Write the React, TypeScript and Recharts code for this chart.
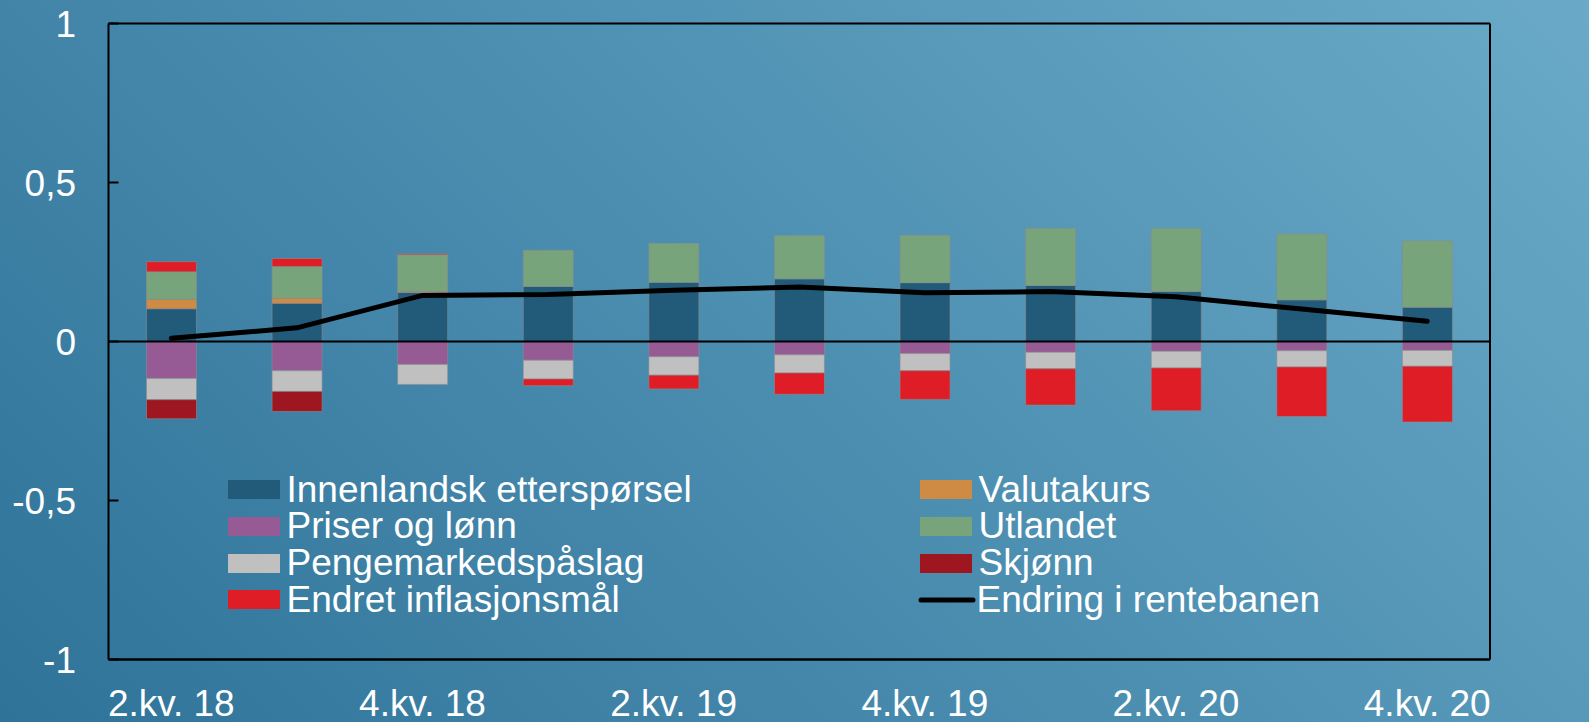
import React from 'react';
import { ComposedChart, Bar, Line, XAxis, YAxis, ReferenceLine, Legend } from 'recharts';

// Kvartaler (x-akse)
const categories = [
  '2.kv. 18', '3.kv. 18', '4.kv. 18', '1.kv. 19', '2.kv. 19', '3.kv. 19',
  '4.kv. 19', '1.kv. 20', '2.kv. 20', '3.kv. 20', '4.kv. 20',
];

// Bidrag til endring i rentebanen (prosentenheter)
const innenlandsk = [0.103, 0.12, 0.154, 0.173, 0.186, 0.197, 0.185, 0.176, 0.157, 0.131, 0.108];
const priser = [-0.116, -0.092, -0.072, -0.059, -0.048, -0.042, -0.038, -0.034, -0.031, -0.029, -0.028];
const pengemarked = [-0.067, -0.065, -0.063, -0.059, -0.058, -0.057, -0.054, -0.052, -0.052, -0.051, -0.05];
const valutakurs = [0.03, 0.016, 0.004, 0, 0, 0, 0, 0, 0, 0, 0];
const utlandet = [0.086, 0.1, 0.115, 0.114, 0.122, 0.136, 0.149, 0.18, 0.199, 0.207, 0.209];
const skjonn = [-0.06, -0.063, 0, 0, 0, 0, 0, 0, 0, 0, 0];
const endret = [0.032, 0.025, 0.003, -0.021, -0.043, -0.067, -0.09, -0.114, -0.135, -0.156, -0.175];
const rentebane = [0.01, 0.043, 0.145, 0.148, 0.161, 0.171, 0.153, 0.157, 0.141, 0.102, 0.064];

const yTicks = [-1, -0.5, 0, 0.5, 1];

const data = categories.map((q, i) => ({
  q,
  innenlandsk: innenlandsk[i],
  priser: priser[i],
  pengemarked: pengemarked[i],
  valutakurs: valutakurs[i],
  utlandet: utlandet[i],
  skjonn: skjonn[i],
  endret: endret[i],
  rentebane: rentebane[i],
}));

const bars = [
  { key: 'innenlandsk', name: 'Innenlandsk etterspørsel', color: '#225a7a' },
  { key: 'priser', name: 'Priser og lønn', color: '#965b94' },
  { key: 'pengemarked', name: 'Pengemarkedspåslag', color: '#c0c0c0' },
  { key: 'valutakurs', name: 'Valutakurs', color: '#cf8b43' },
  { key: 'utlandet', name: 'Utlandet', color: '#78a47c' },
  { key: 'skjonn', name: 'Skjønn', color: '#9e1620' },
  { key: 'endret', name: 'Endret inflasjonsmål', color: '#de1d27' },
];

const legendOrder = ['innenlandsk', 'priser', 'pengemarked', 'endret', 'valutakurs', 'utlandet', 'skjonn', 'rentebane'];

const FONT = '"Liberation Sans", Arial, sans-serif';
const fmt = (v: number) => String(v).replace('.', ',');

const renderLegend = () => (
  <div
    style={{
      display: 'grid',
      gridTemplateColumns: '692px 500px',
      gridTemplateRows: 'repeat(4, 36.7px)',
      gridAutoFlow: 'column',
      fontFamily: FONT,
      fontSize: 37,
      color: '#fff',
    }}
  >
    {legendOrder.map((k) => {
      const b = bars.find((x) => x.key === k);
      return (
        <div key={k} style={{ display: 'flex', alignItems: 'center', height: 36.7, lineHeight: '36.7px', whiteSpace: 'nowrap' }}>
          {b ? (
            <span style={{ width: 52, height: 19, background: b.color, marginRight: 6.5, display: 'inline-block' }} />
          ) : (
            <svg width={58} height={10} style={{ marginRight: 0.5, marginLeft: -2 }}>
              <line x1={3} y1={5} x2={55} y2={5} stroke="#000" strokeWidth={5} strokeLinecap="round" />
            </svg>
          )}
          <span>{b ? b.name : 'Endring i rentebanen'}</span>
        </div>
      );
    })}
  </div>
);

const App: React.FC = () => {
  return (
    <div
      style={{
        width: 1589,
        height: 722,
        background: 'linear-gradient(45deg, #2f7399 0%, #6aaac8 100%)',
        position: 'relative',
      }}
    >
      <style>{'body{margin:0}'}</style>
      <ComposedChart
        width={1589}
        height={722}
        data={data}
        stackOffset="sign"
        margin={{ top: 23.5, right: 0, bottom: 0, left: 0 }}
      >
        <XAxis
          dataKey="q"
          height={62.5}
          interval={1}
          tickLine={false}
          tickSize={0}
          tickMargin={30}
          axisLine={{ stroke: '#000', strokeWidth: 2.5 }}
          tick={{ fill: '#fff', fontSize: 37, fontFamily: FONT }}
        />
        <YAxis
          yAxisId="l"
          orientation="left"
          width={108.5}
          domain={[-1, 1]}
          ticks={yTicks}
          tickFormatter={fmt}
          tickSize={-10}
          tickMargin={42.5}
          axisLine={{ stroke: '#000', strokeWidth: 2 }}
          tickLine={{ stroke: '#000', strokeWidth: 2 }}
          tick={{ fill: '#fff', fontSize: 37, fontFamily: FONT }}
        />
        <YAxis
          yAxisId="r"
          orientation="right"
          width={99}
          domain={[-1, 1]}
          ticks={yTicks}
          tickFormatter={fmt}
          tickSize={-10}
          tickMargin={43}
          axisLine={{ stroke: '#000', strokeWidth: 2 }}
          tickLine={{ stroke: '#000', strokeWidth: 2 }}
          tick={{ fill: '#fff', fontSize: 37, fontFamily: FONT }}
        />
        <ReferenceLine yAxisId="l" y={1} stroke="#000" strokeWidth={2} />
        {bars.map((b) => (
          <Bar
            key={b.key}
            yAxisId="l"
            dataKey={b.key}
            name={b.name}
            stackId="a"
            fill={b.color}
            stroke="rgba(140,140,140,0.6)"
            strokeWidth={1}
            barSize={50}
            isAnimationActive={false}
          />
        ))}
        <ReferenceLine yAxisId="l" y={0} stroke="#000" strokeWidth={2} />
        <Line
          yAxisId="l"
          dataKey="rentebane"
          name="Endring i rentebanen"
          type="linear"
          stroke="#000"
          strokeWidth={5}
          strokeLinecap="round"
          dot={false}
          isAnimationActive={false}
        />
        <Legend
          layout="horizontal"
          verticalAlign="middle"
          align="center"
          content={renderLegend}
          wrapperStyle={{ left: 228, top: 471.5, width: 1200, height: 150 }}
        />
      </ComposedChart>
    </div>
  );
};

export default App;
